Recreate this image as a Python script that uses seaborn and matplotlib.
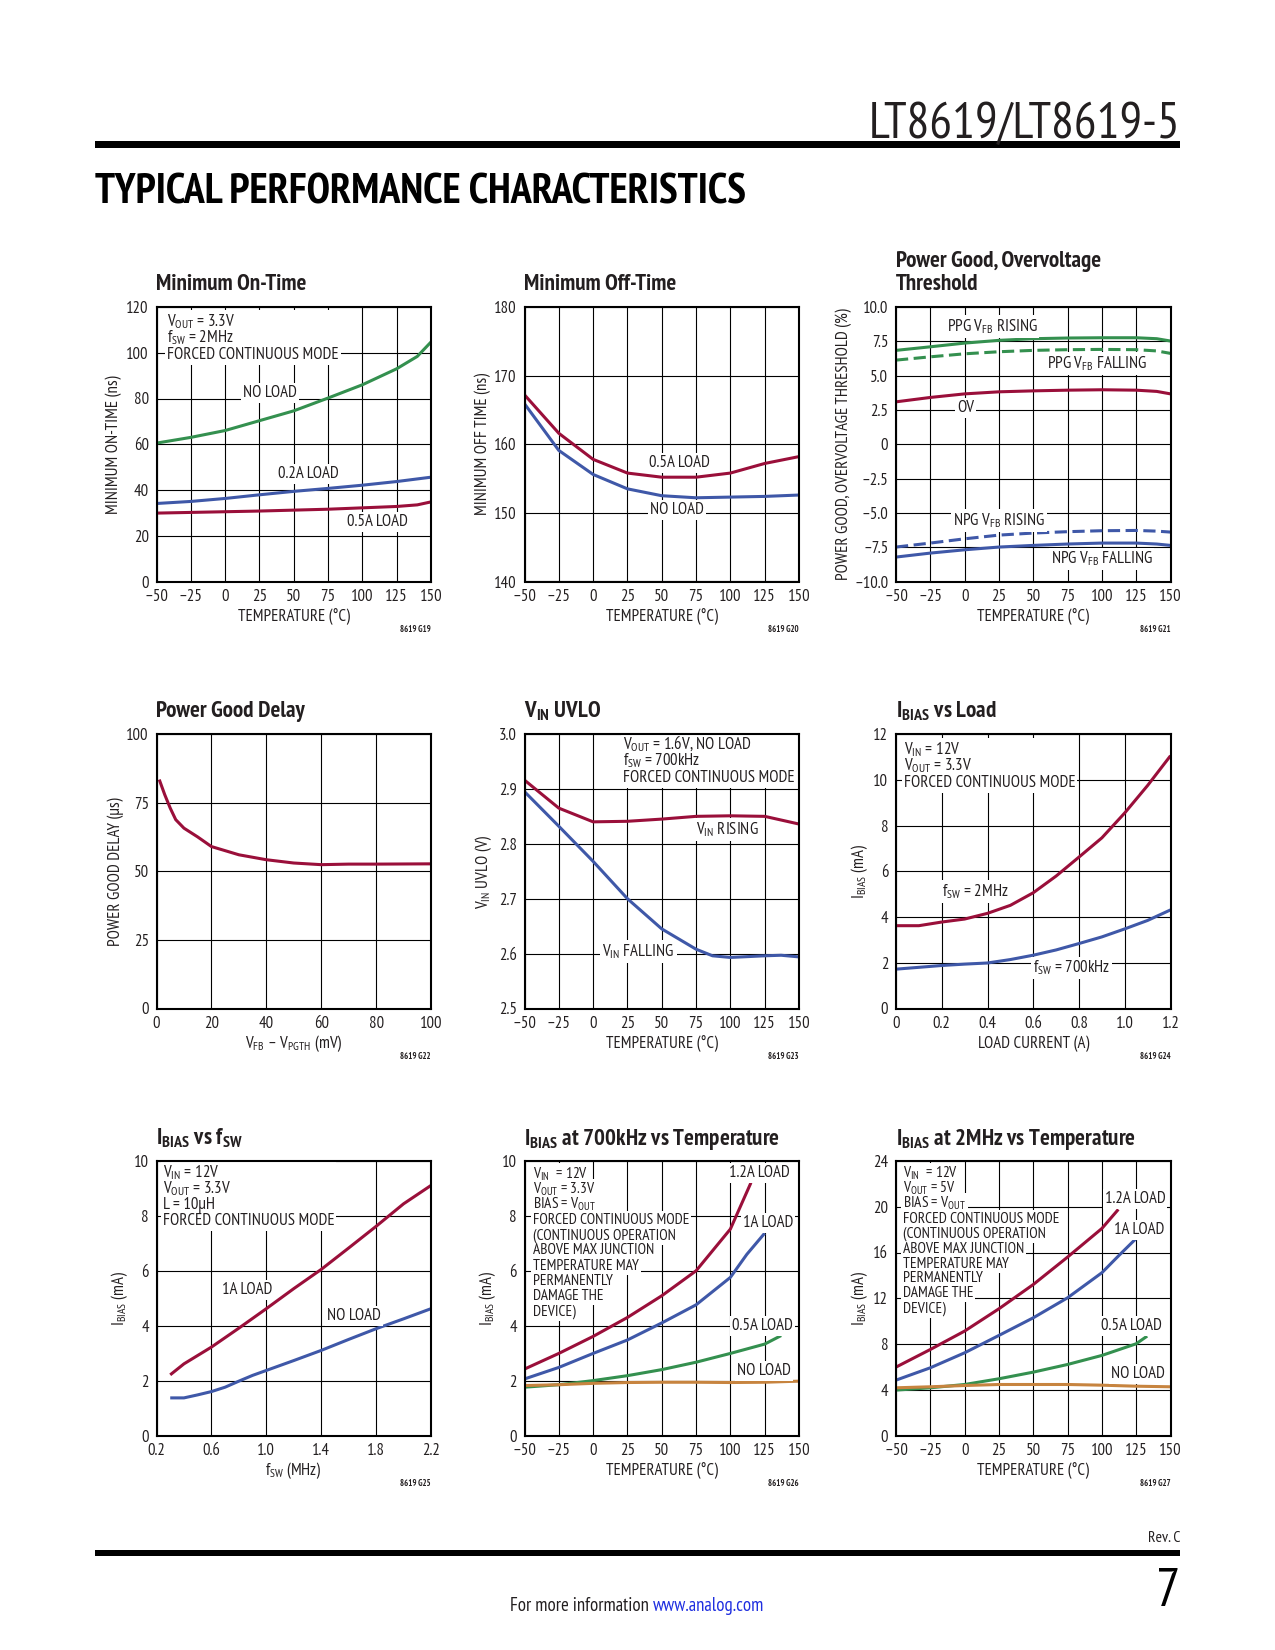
import matplotlib
matplotlib.use("Agg")
import matplotlib.pyplot as plt
from matplotlib import font_manager
from matplotlib.font_manager import FontProperties
from matplotlib.textpath import TextPath
from matplotlib.patches import Rectangle
from matplotlib.transforms import Bbox
import seaborn as sns

# =========================================
# DATA
# =========================================

TEMP = [-50, -25, 0, 25, 50, 75, 100, 125, 150]
TEMP_TICKS = ["–50", "–25", "0", "25", "50", "75", "100", "125", "150"]

# G19 minimum on-time (ns)
g19_noload_t = [-50, -25, 0, 25, 50, 75, 100, 125, 140, 150]
g19_noload = [60.5, 63.0, 66.0, 70.3, 74.6, 80.2, 86.0, 93.0, 98.4, 104.7]
g19_02a = [34.1, 35.0, 36.3, 37.9, 39.4, 40.7, 42.1, 43.7, 45.6]
g19_05a_t = [-50, 0, 25, 50, 75, 100, 125, 140, 150]
g19_05a = [29.9, 30.5, 30.8, 31.2, 31.6, 32.2, 32.8, 33.5, 34.8]

# G20 minimum off-time (ns)
g20_05a = [167.2, 161.6, 157.8, 155.8, 155.2, 155.2, 155.8, 157.2, 158.2]
g20_noload = [165.9, 159.1, 155.6, 153.5, 152.5, 152.2, 152.3, 152.4, 152.6]

# G21 power good / overvoltage threshold (%)
g21_t = [-50, -25, 0, 25, 50, 75, 100, 125, 140, 150]
g21_ppg_rise = [6.84, 7.10, 7.37, 7.57, 7.69, 7.74, 7.76, 7.76, 7.69, 7.52]
g21_ppg_fall = [6.13, 6.37, 6.59, 6.74, 6.84, 6.89, 6.91, 6.89, 6.80, 6.62]
g21_ov = [3.09, 3.41, 3.67, 3.82, 3.89, 3.94, 3.97, 3.94, 3.85, 3.67]
g21_npg_rise = [-7.49, -7.20, -6.89, -6.62, -6.47, -6.37, -6.30, -6.28, -6.33, -6.40]
g21_npg_fall = [-8.22, -7.93, -7.69, -7.49, -7.37, -7.27, -7.20, -7.20, -7.27, -7.37]

# G22 power good delay (us)
g22_x = [1, 3, 5, 7, 10, 15, 20, 30, 40, 50, 60, 70, 80, 100]
g22_y = [83.4, 77.9, 73.0, 68.8, 65.7, 62.5, 59.0, 56.0, 54.2, 53.0, 52.4, 52.6, 52.6, 52.7]

# G23 VIN UVLO (V)
g23_rise = [2.916, 2.865, 2.840, 2.841, 2.845, 2.850, 2.851, 2.850, 2.836]
g23_fall_t = [-50, -25, 0, 25, 50, 75, 87, 100, 125, 137, 150]
g23_fall = [2.895, 2.832, 2.768, 2.700, 2.645, 2.608, 2.596, 2.593, 2.596, 2.597, 2.594]

# G24 IBIAS vs load (mA)
g24_load = [0, 0.1, 0.2, 0.3, 0.4, 0.5, 0.6, 0.7, 0.8, 0.9, 1.0, 1.1, 1.2]
g24_2mhz = [3.62, 3.62, 3.78, 3.91, 4.16, 4.51, 5.06, 5.79, 6.62, 7.46, 8.55, 9.75, 11.05]
g24_700k = [1.72, 1.80, 1.88, 1.94, 1.99, 2.14, 2.33, 2.56, 2.84, 3.13, 3.48, 3.85, 4.31]

# G25 IBIAS vs fSW (mA)
g25_1a_f = [0.3, 0.4, 0.6, 0.8, 1.0, 1.2, 1.4, 1.6, 1.8, 2.0, 2.2]
g25_1a = [2.21, 2.61, 3.22, 3.91, 4.62, 5.35, 6.05, 6.83, 7.62, 8.44, 9.11]
g25_nl_f = [0.3, 0.4, 0.5, 0.6, 0.7, 0.8, 0.9, 1.0, 1.2, 1.4, 1.6, 1.8, 2.0, 2.2]
g25_nl = [1.37, 1.37, 1.48, 1.60, 1.76, 1.98, 2.19, 2.37, 2.73, 3.10, 3.50, 3.89, 4.25, 4.62]

# G26 IBIAS at 700kHz vs temperature (mA)
g26_12a_t = [-50, -25, 0, 25, 50, 75, 100, 115]
g26_12a = [2.42, 2.99, 3.61, 4.30, 5.09, 6.00, 7.52, 9.21]
g26_1a_t = [-50, -25, 0, 25, 50, 75, 100, 112, 125]
g26_1a = [2.06, 2.48, 2.99, 3.48, 4.10, 4.76, 5.76, 6.60, 7.37]
g26_05a_t = [-50, -25, 0, 25, 50, 75, 100, 125, 137]
g26_05a = [1.76, 1.85, 2.00, 2.18, 2.40, 2.67, 2.99, 3.33, 3.64]
g26_nl = [1.82, 1.85, 1.90, 1.93, 1.94, 1.94, 1.93, 1.94, 1.98]

# G27 IBIAS at 2MHz vs temperature (mA)
g27_12a_t = [-50, -25, 0, 25, 50, 75, 100, 112]
g27_12a = [5.98, 7.52, 9.13, 11.08, 13.20, 15.60, 18.10, 19.77]
g27_1a_t = [-50, -25, 0, 25, 50, 75, 100, 112, 125]
g27_1a = [4.84, 5.92, 7.23, 8.75, 10.29, 12.04, 14.23, 15.69, 17.23]
g27_05a_t = [-50, -25, 0, 25, 50, 75, 100, 125, 133]
g27_05a = [3.97, 4.17, 4.46, 4.96, 5.54, 6.21, 7.00, 8.02, 8.69]
g27_nl = [4.17, 4.26, 4.37, 4.46, 4.46, 4.46, 4.40, 4.31, 4.26]

# =========================================
# STYLE
# =========================================

sns.set_theme(style="white")

# pick a condensed sans (datasheets use Helvetica Condensed)
have = {}
for f in font_manager.fontManager.ttflist:
    if f.style == "normal":
        have.setdefault(f.name, set()).add(f.weight)
PREF = ["Liberation Sans Narrow", "Arial Narrow", "PT Sans Narrow", "Archivo Narrow",
        "Roboto Condensed", "Fira Sans Condensed", "IBM Plex Sans Condensed"]
NARROW = "Liberation Sans"
for n in PREF:
    if n in have and 400 in have[n] and 700 in have[n]:
        NARROW = n
        break


def width_pt(s, size, weight="normal"):
    tp = TextPath((0, 0), s, size=size, prop=FontProperties(family=NARROW, weight=weight))
    return tp.get_extents().width


def fit(s, px, weight="normal"):
    # font size (pt) that makes s about px pixels wide at dpi 100
    return 10.0 * (px * 0.72) / width_pt(s, 10.0, weight)


INK = "#231F20"
plt.rcParams["font.family"] = [NARROW, "DejaVu Sans"]
plt.rcParams["mathtext.fontset"] = "custom"
plt.rcParams["mathtext.rm"] = NARROW
plt.rcParams["mathtext.it"] = NARROW
plt.rcParams["mathtext.bf"] = NARROW + ":bold"
plt.rcParams["text.color"] = INK
plt.rcParams["axes.labelcolor"] = INK

RED = "#9A0F3A"
BLUE = "#3F58A8"
GREEN = "#34904F"
ORANGE = "#C7843F"
LW = 2.2
DASH = (0, (4, 1.8))

FS_NOTE = fit("FORCED CONTINUOUS MODE", 168)
FS_TICK = FS_NOTE
FS_LAB = FS_NOTE
FS_TITLE = fit("Minimum On-Time", 149, "bold")
FS_ID = FS_NOTE * 0.52

FIG_W, FIG_H = 1275.0, 1650.0
COL_X = [156.5, 524.5, 896.0]
ROW_Y = [307.0, 734.0, 1161.0]
AX_W = AX_H = 274.5

fig = plt.figure(figsize=(12.75, 16.5), dpi=100)
NOTES = []


def make_ax(r, c):
    return fig.add_axes([COL_X[c] / FIG_W, 1 - (ROW_Y[r] + AX_H) / FIG_H,
                         AX_W / FIG_W, AX_H / FIG_H])


def draw(ax, x, y, color, ls="-"):
    sns.lineplot(x=x, y=y, ax=ax, color=color, linewidth=LW, linestyle=ls,
                 sort=False, estimator=None, errorbar=None,
                 solid_capstyle="butt", dash_capstyle="butt")


def frame(ax, xlim, ylim, xt, xtl, yt, ytl, xlabel, ylabel, ylab_dx, title, gid):
    ax.set_xlim(xlim)
    ax.set_ylim(ylim)
    ax.set_xticks(xt)
    ax.set_xticklabels(xtl)
    ax.set_yticks(yt)
    ax.set_yticklabels(ytl)
    ax.tick_params(axis="both", length=0, labelsize=FS_TICK, colors=INK)
    ax.tick_params(axis="x", pad=5.5)
    ax.tick_params(axis="y", pad=5.5)
    ax.grid(True, color="black", linewidth=0.8)
    ax.set_axisbelow(True)
    for sp in ax.spines.values():
        sp.set_visible(True)
        sp.set_color("black")
        sp.set_linewidth(1.5)
    ax.set_xlabel(xlabel, fontsize=FS_LAB)
    ax.set_ylabel(ylabel, fontsize=FS_LAB)
    ax.xaxis.set_label_coords(0.5, -35 / AX_H)
    ax.yaxis.set_label_coords(-ylab_dx / AX_W, 0.5)
    ax.xaxis.label.set_va("center")
    ax.yaxis.label.set_va("center")
    for i, line in enumerate(reversed(title)):
        ax.text(0, 1 + (16.5 + 23 * i) / AX_H, line, transform=ax.transAxes,
                ha="left", va="baseline", fontsize=FS_TITLE, fontweight="bold")
    ax.text(1, -48 / AX_H, gid, transform=ax.transAxes, ha="right", va="center",
            fontsize=FS_ID, fontweight="bold")


def label(ax, x, y, s):
    ax.text(x, y, s, ha="center", va="center", fontsize=FS_NOTE, zorder=4,
            bbox=dict(fc="white", ec="none", pad=1.5))


def note(ax, x, y0, step, lines, block=True, scale=1.0):
    # condition block: one text per line, white patch behind (added at the end)
    texts = []
    for i, s in enumerate(lines):
        texts.append(ax.text(x, 1 - y0 - i * step, s, transform=ax.transAxes,
                             ha="left", va="baseline", fontsize=FS_NOTE * scale, zorder=4))
    NOTES.append((ax, texts, block))


def white_patches():
    fig.canvas.draw()
    rend = fig.canvas.get_renderer()
    p = 2.0
    for ax, texts, block in NOTES:
        boxes = [t.get_window_extent(rend) for t in texts]
        if block:
            boxes = [Bbox.union(boxes)]
        inv = ax.transAxes.inverted()
        for bb in boxes:
            bb = Bbox.from_extents(bb.x0 - p, bb.y0 - p, bb.x1 + p, bb.y1 + p).transformed(inv)
            ax.add_patch(Rectangle((bb.x0, bb.y0), bb.width, bb.height, transform=ax.transAxes,
                                   fc="white", ec="none", zorder=1))


# =========================================
# PAGE HEADER / FOOTER
# =========================================

fig.text(1180 / FIG_W, 1 - 138 / FIG_H, "LT8619/LT8619-5", ha="right", va="baseline",
         fontsize=fit("LT8619/LT8619-5", 304), color=INK)
fig.add_artist(Rectangle((95 / FIG_W, 1 - 147.5 / FIG_H), 1085 / FIG_W, 6.5 / FIG_H,
                         transform=fig.transFigure, fc="black", ec="none"))
fig.text(95 / FIG_W, 1 - 203 / FIG_H, "TYPICAL PERFORMANCE CHARACTERISTICS", ha="left",
         va="baseline", fontsize=fit("TYPICAL PERFORMANCE CHARACTERISTICS", 650, "bold"),
         fontweight="bold", color="black")

fig.text(1180 / FIG_W, 1 - 1542 / FIG_H, "Rev. C", ha="right", va="baseline",
         fontsize=fit("Rev. C", 31), color=INK)
fig.add_artist(Rectangle((95 / FIG_W, 1 - 1556 / FIG_H), 1085 / FIG_W, 6.5 / FIG_H,
                         transform=fig.transFigure, fc="black", ec="none"))
fig.text(1180 / FIG_W, 1 - 1606.5 / FIG_H, "7", ha="right", va="baseline",
         fontsize=39, color="black")
fig.text(649 / FIG_W, 1 - 1611 / FIG_H, "For more information", ha="right", va="baseline",
         fontsize=fit("For more information", 136), color=INK)
fig.text(653 / FIG_W, 1 - 1611 / FIG_H, "www.analog.com", ha="left", va="baseline",
         fontsize=fit("For more information", 136), color="#1F2FE0")

# =========================================
# G19 Minimum On-Time
# =========================================

ax = make_ax(0, 0)
draw(ax, g19_noload_t, g19_noload, GREEN)
draw(ax, TEMP, g19_02a, BLUE)
draw(ax, g19_05a_t, g19_05a, RED)
frame(ax, (-50, 150), (0, 120), TEMP, TEMP_TICKS, range(0, 121, 20),
      ["0", "20", "40", "60", "80", "100", "120"],
      "TEMPERATURE (°C)", "MINIMUM ON-TIME (ns)", 43, ["Minimum On-Time"], "8619 G19")
label(ax, 33, 82.4, "NO LOAD")
label(ax, 61, 47, "0.2A LOAD")
label(ax, 110.7, 25.8, "0.5A LOAD")
note(ax, 0.039, 0.0705, 0.059,
     [r"V$_{\mathrm{OUT}}$ = 3.3V", r"f$_{\mathrm{SW}}$ = 2MHz", "FORCED CONTINUOUS MODE"])

# =========================================
# G20 Minimum Off-Time
# =========================================

ax = make_ax(0, 1)
draw(ax, TEMP, g20_05a, RED)
draw(ax, TEMP, g20_noload, BLUE)
frame(ax, (-50, 150), (140, 180), TEMP, TEMP_TICKS, [140, 150, 160, 170, 180],
      ["140", "150", "160", "170", "180"],
      "TEMPERATURE (°C)", "MINIMUM OFF TIME (ns)", 41.5, ["Minimum Off-Time"], "8619 G20")
label(ax, 63, 157.3, "0.5A LOAD")
label(ax, 61, 150.4, "NO LOAD")

# =========================================
# G21 Power Good, Overvoltage Threshold
# =========================================

ax = make_ax(0, 2)
draw(ax, g21_t, g21_ppg_rise, GREEN)
draw(ax, g21_t, g21_ppg_fall, GREEN, DASH)
draw(ax, g21_t, g21_ov, RED)
draw(ax, g21_t, g21_npg_rise, BLUE, DASH)
draw(ax, g21_t, g21_npg_fall, BLUE)
frame(ax, (-50, 150), (-10, 10), TEMP, TEMP_TICKS,
      [-10, -7.5, -5, -2.5, 0, 2.5, 5, 7.5, 10],
      ["–10.0", "–7.5", "–5.0", "–2.5", "0", "2.5", "5.0", "7.5", "10.0"],
      "TEMPERATURE (°C)", "POWER GOOD, OVERVOLTAGE THRESHOLD (%)", 52.5,
      ["Power Good, Overvoltage", "Threshold"], "8619 G21")
label(ax, 20, 8.56, r"PPG V$_{\mathrm{FB}}$ RISING")
label(ax, 96.8, 5.9, r"PPG V$_{\mathrm{FB}}$ FALLING")
label(ax, 0.5, 2.65, "OV")
label(ax, 24.8, -5.55, r"NPG V$_{\mathrm{FB}}$ RISING")
label(ax, 99.7, -8.37, r"NPG V$_{\mathrm{FB}}$ FALLING")

# =========================================
# G22 Power Good Delay
# =========================================

ax = make_ax(1, 0)
draw(ax, g22_x, g22_y, RED)
frame(ax, (0, 100), (0, 100), [0, 20, 40, 60, 80, 100], ["0", "20", "40", "60", "80", "100"],
      [0, 25, 50, 75, 100], ["0", "25", "50", "75", "100"],
      r"V$_{\mathrm{FB}}$ – V$_{\mathrm{PGTH}}$ (mV)", "POWER GOOD DELAY (µs)", 41,
      ["Power Good Delay"], "8619 G22")

# =========================================
# G23 VIN UVLO
# =========================================

ax = make_ax(1, 1)
draw(ax, TEMP, g23_rise, RED)
draw(ax, g23_fall_t, g23_fall, BLUE)
frame(ax, (-50, 150), (2.5, 3.0), TEMP, TEMP_TICKS, [2.5, 2.6, 2.7, 2.8, 2.9, 3.0],
      ["2.5", "2.6", "2.7", "2.8", "2.9", "3.0"],
      "TEMPERATURE (°C)", r"V$_{\mathrm{IN}}$ UVLO (V)", 41, [r"V$_{\mathbf{IN}}$ UVLO"], "8619 G23")
label(ax, 98, 2.826, r"V$_{\mathrm{IN}}$ RISING")
label(ax, 33, 2.604, r"V$_{\mathrm{IN}}$ FALLING")
note(ax, 0.358, 0.057, 0.0585,
     [r"V$_{\mathrm{OUT}}$ = 1.6V, NO LOAD", r"f$_{\mathrm{SW}}$ = 700kHz", "FORCED CONTINUOUS MODE"])

# =========================================
# G24 IBIAS vs Load
# =========================================

ax = make_ax(1, 2)
draw(ax, g24_load, g24_2mhz, RED)
draw(ax, g24_load, g24_700k, BLUE)
frame(ax, (0, 1.2), (0, 12), [0, 0.2, 0.4, 0.6, 0.8, 1.0, 1.2],
      ["0", "0.2", "0.4", "0.6", "0.8", "1.0", "1.2"],
      [0, 2, 4, 6, 8, 10, 12], ["0", "2", "4", "6", "8", "10", "12"],
      "LOAD CURRENT (A)", r"I$_{\mathrm{BIAS}}$ (mA)", 36.7, [r"I$_{\mathbf{BIAS}}$ vs Load"], "8619 G24")
label(ax, 0.347, 5.13, r"f$_{\mathrm{SW}}$ = 2MHz")
label(ax, 0.768, 1.77, r"f$_{\mathrm{SW}}$ = 700kHz")
note(ax, 0.028, 0.0727, 0.0605,
     [r"V$_{\mathrm{IN}}$ = 12V", r"V$_{\mathrm{OUT}}$ = 3.3V", "FORCED CONTINUOUS MODE"])

# =========================================
# G25 IBIAS vs fSW
# =========================================

ax = make_ax(2, 0)
draw(ax, g25_1a_f, g25_1a, RED)
draw(ax, g25_nl_f, g25_nl, BLUE)
frame(ax, (0.2, 2.2), (0, 10), [0.2, 0.6, 1.0, 1.4, 1.8, 2.2],
      ["0.2", "0.6", "1.0", "1.4", "1.8", "2.2"],
      [0, 2, 4, 6, 8, 10], ["0", "2", "4", "6", "8", "10"],
      r"f$_{\mathrm{SW}}$ (MHz)", r"I$_{\mathrm{BIAS}}$ (mA)", 36.6,
      [r"I$_{\mathbf{BIAS}}$ vs f$_{\mathbf{SW}}$"], "8619 G25")
label(ax, 0.864, 5.29, "1A LOAD")
label(ax, 1.64, 4.37, "NO LOAD")
note(ax, 0.022, 0.058, 0.058,
     [r"V$_{\mathrm{IN}}$ = 12V", r"V$_{\mathrm{OUT}}$ = 3.3V", "L = 10µH", "FORCED CONTINUOUS MODE"])

# =========================================
# G26 IBIAS at 700kHz vs Temperature
# =========================================

WARN = ["FORCED CONTINUOUS MODE", "(CONTINUOUS OPERATION", "ABOVE MAX JUNCTION",
        "TEMPERATURE MAY", "PERMANENTLY", "DAMAGE THE", "DEVICE)"]

ax = make_ax(2, 1)
draw(ax, g26_12a_t, g26_12a, RED)
draw(ax, g26_1a_t, g26_1a, BLUE)
draw(ax, g26_05a_t, g26_05a, GREEN)
draw(ax, TEMP, g26_nl, ORANGE)
frame(ax, (-50, 150), (0, 10), TEMP, TEMP_TICKS,
      [0, 2, 4, 6, 8, 10], ["0", "2", "4", "6", "8", "10"],
      "TEMPERATURE (°C)", r"I$_{\mathrm{BIAS}}$ (mA)", 36.7,
      [r"I$_{\mathbf{BIAS}}$ at 700kHz vs Temperature"], "8619 G26")
label(ax, 120.9, 9.58, "1.2A LOAD")
label(ax, 127.5, 7.73, "1A LOAD")
label(ax, 123.6, 3.99, "0.5A LOAD")
label(ax, 124.8, 2.34, "NO LOAD")
note(ax, 0.03, 0.063, 0.0555,
     [r"V$_{\mathrm{IN}}$  = 12V", r"V$_{\mathrm{OUT}}$ = 3.3V", r"BIAS = V$_{\mathrm{OUT}}$"] + WARN,
     block=False, scale=0.92)

# =========================================
# G27 IBIAS at 2MHz vs Temperature
# =========================================

ax = make_ax(2, 2)
draw(ax, g27_12a_t, g27_12a, RED)
draw(ax, g27_1a_t, g27_1a, BLUE)
draw(ax, g27_05a_t, g27_05a, GREEN)
draw(ax, TEMP, g27_nl, ORANGE)
frame(ax, (-50, 150), (0, 24), TEMP, TEMP_TICKS,
      [0, 4, 8, 12, 16, 20, 24], ["0", "4", "8", "12", "16", "20", "24"],
      "TEMPERATURE (°C)", r"I$_{\mathrm{BIAS}}$ (mA)", 36.7,
      [r"I$_{\mathbf{BIAS}}$ at 2MHz vs Temperature"], "8619 G27")
label(ax, 124.2, 20.64, "1.2A LOAD")
label(ax, 127.4, 18.0, "1A LOAD")
label(ax, 121.8, 9.56, "0.5A LOAD")
label(ax, 126.2, 5.42, "NO LOAD")
note(ax, 0.024, 0.061, 0.0545,
     [r"V$_{\mathrm{IN}}$  = 12V", r"V$_{\mathrm{OUT}}$ = 5V", r"BIAS = V$_{\mathrm{OUT}}$"] + WARN,
     block=False, scale=0.92)

white_patches()
fig.savefig("out.png", dpi=100, facecolor="white")
plt.close(fig)
